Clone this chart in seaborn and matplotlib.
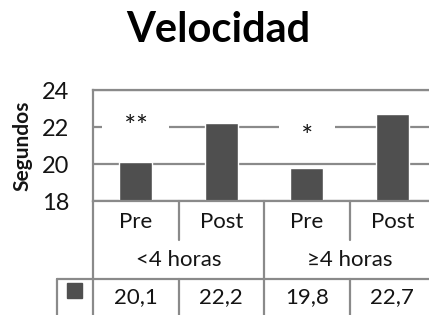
import matplotlib
matplotlib.use("Agg")
import matplotlib.pyplot as plt
from matplotlib.lines import Line2D
from matplotlib.patches import Rectangle
from matplotlib.transforms import blended_transform_factory
import pandas as pd
import seaborn as sns

# ── Data ──────────────────────────────────────────────────────────────────────
phases = ["Pre", "Post", "Pre", "Post"]
groups = ["<4 horas", "≥4 horas"]
values = [20.1, 22.2, 19.8, 22.7]
value_labels = ["20,1", "22,2", "19,8", "22,7"]
sig_marks = ["**", "*"]
sig_pos = [0, 2]
sig_y = [21.95, 21.4]
yticks = [18, 20, 22, 24]

BAR = "#4f4f4f"
LINE = "#8a8a8a"
TXT = "#141414"

sns.set_theme(style="white")
plt.rcParams["font.family"] = ["Lato", "DejaVu Sans"]

df = pd.DataFrame({"pos": [str(i) for i in range(len(values))], "value": values})

fig = plt.figure(figsize=(4.29, 3.15), dpi=100)
ax = fig.add_axes([93 / 429, 1 - 201 / 315, 342 / 429, 111 / 315])

sns.barplot(data=df, x="pos", y="value", color=BAR, saturation=1,
            width=0.39, ax=ax, zorder=1)
# bars start from the axis floor
for p in ax.patches:
    p.set_y(18)
    p.set_height(p.get_height() - 18)

ax.set_ylim(18, 24)
ax.set_xlim(-0.5, 3.5)
ax.set_yticks(yticks)
ax.set_yticklabels([str(t) for t in yticks], fontsize=17, color=TXT)
ax.tick_params(axis="y", length=0, pad=17)
ax.set_xticks([])
ax.set_xlabel("")
ax.set_ylabel("Segundos", fontsize=15, fontweight="bold", color=TXT, labelpad=7)
ax.yaxis.grid(True, color=LINE, linewidth=1.6)
ax.set_axisbelow(True)
for s in ax.spines.values():
    s.set_color(LINE)
    s.set_linewidth(1.6)

for mark, xp, yp in zip(sig_marks, sig_pos, sig_y):
    ax.text(xp, yp, "   " + mark + "   ", ha="center", va="center", fontsize=20,
            color=TXT, zorder=2,
            bbox=dict(boxstyle="square,pad=0.02", fc="white", ec="none"))

fig.text(0.508, 1 - 30 / 315, "Velocidad", ha="center", va="center",
         fontsize=30, fontweight="bold", color="black")

# ── Data table below the axis ────────────────────────────────────────────────
tr = blended_transform_factory(ax.transData, fig.transFigure)
y_top = 1 - 201 / 315
y_cat = 1 - 222 / 315
y_sep = 1 - 240 / 315
y_grp = 1 - 260 / 315
y_row = 1 - 279 / 315
y_val = 1 - 297 / 315

def vline(x, y0, y1):
    fig.add_artist(Line2D([x, x], [y0, y1], transform=tr, color=LINE, lw=1.6))

vline(-0.5, y_top, 0)
for x in [0.5, 2.5]:
    vline(x, y_top, y_sep)
    vline(x, y_row, 0)
vline(1.5, y_top, 0)

fig.add_artist(Line2D([57 / 429, 1], [y_row, y_row], transform=fig.transFigure,
                      color=LINE, lw=1.6))
fig.add_artist(Line2D([57 / 429, 57 / 429], [y_row, 0], transform=fig.transFigure,
                      color=LINE, lw=1.6))
fig.add_artist(Rectangle((67 / 429, 1 - 298 / 315), 15 / 429, 15 / 315,
                         transform=fig.transFigure, color=BAR))

for i, (ph, vl) in enumerate(zip(phases, value_labels)):
    fig.text(i, y_cat, ph, transform=tr, ha="center", va="center", fontsize=16, color=TXT)
    fig.text(i, y_val, vl, transform=tr, ha="center", va="center", fontsize=16, color=TXT)
for j, g in enumerate(groups):
    fig.text(2 * j + 0.5, y_grp, g, transform=tr, ha="center", va="center",
             fontsize=16, color=TXT)

fig.savefig("out.png", dpi=100)
